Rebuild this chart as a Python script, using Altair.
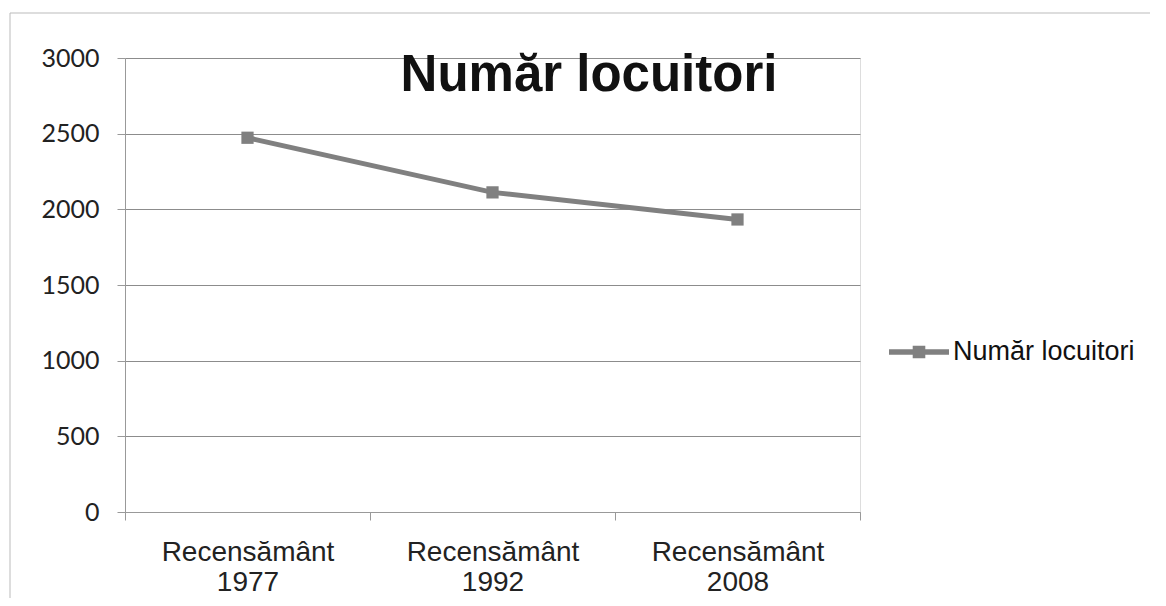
import altair as alt
import pandas as pd

categories = ["Recensământ 1977", "Recensământ 1992", "Recensământ 2008"]
values = [2473, 2112, 1933]
series = "Număr locuitori"
y_ticks = [0, 500, 1000, 1500, 2000, 2500, 3000]

df = pd.DataFrame({"cat": categories, "val": values, "serie": [series] * len(categories)})

W, H = 735, 454
GRAY = "#808080"

legend_path = ("M-1,-0.09H1V0.09H-1Z "
               "M-0.21,-0.21H0.21V0.21H-0.21Z")

x_enc = alt.X("cat:N", sort=categories, bandPosition=0.5,
              scale=alt.Scale(type="band", paddingInner=0, paddingOuter=0),
              axis=alt.Axis(title=None, labelExpr="split(datum.label, ' ')",
                            labelFont="Liberation Sans", labelFontSize=28,
                            labelColor="#222", labelAngle=0, labelLineHeight=30,
                            labelPadding=18, tickBand="extent", tickSize=8,
                            tickColor="#999", domainColor="#999", grid=False))
y_enc = alt.Y("val:Q", scale=alt.Scale(domain=[0, 3000]),
              axis=alt.Axis(title=None, values=y_ticks, format="d", labelFont="Lato",
                            labelFontSize=25, labelColor="#222", labelPadding=18,
                            tickSize=8, tickColor="#999", domainColor="#999",
                            gridColor="#8c8c8c", gridWidth=1))
color_enc = alt.Color("serie:N", scale=alt.Scale(range=[GRAY]),
                      legend=alt.Legend(title=None, orient="none", legendX=764, legendY=264,
                                        symbolType=legend_path, symbolSize=3600,
                                        symbolFillColor=GRAY, symbolStrokeColor=GRAY,
                                        symbolStrokeWidth=0, symbolOpacity=1,
                                        labelFont="Liberation Sans", labelFontSize=27,
                                        labelColor="#111", labelOffset=4, labelLimit=0))

line = alt.Chart(df).mark_line(strokeWidth=5, color=GRAY).encode(x=x_enc, y=y_enc, color=color_enc)
pts = alt.Chart(df).mark_point(shape="square", filled=True, size=150, opacity=1, color="#777").encode(
    x=x_enc, y=y_enc, color=color_enc)

title_df = pd.DataFrame({"t": [series]})
title = alt.Chart(title_df).mark_text(font="Liberation Sans", fontWeight="bold", fontSize=51,
                                      color="#111", baseline="middle", align="center").encode(
    text="t:N", x=alt.value(464), y=alt.value(18))

frame_left = alt.Chart(title_df).mark_rule(color="#bbb", strokeWidth=1, clip=False).encode(
    x=alt.value(-115), y=alt.value(-45), y2=alt.value(560))
frame_top = alt.Chart(title_df).mark_rule(color="#bbb", strokeWidth=1, clip=False).encode(
    x=alt.value(-115), x2=alt.value(1030), y=alt.value(-45))

chart = alt.layer(frame_left, frame_top, line, pts, title).properties(
    width=W, height=H,
    autosize=alt.AutoSizeParams(type="none"),
    padding={"left": 117, "top": 50, "right": 290, "bottom": 86},
).configure_view(stroke=None).configure(background="white")

chart.save("out.html", embed_options={"renderer": "svg", "actions": False})
